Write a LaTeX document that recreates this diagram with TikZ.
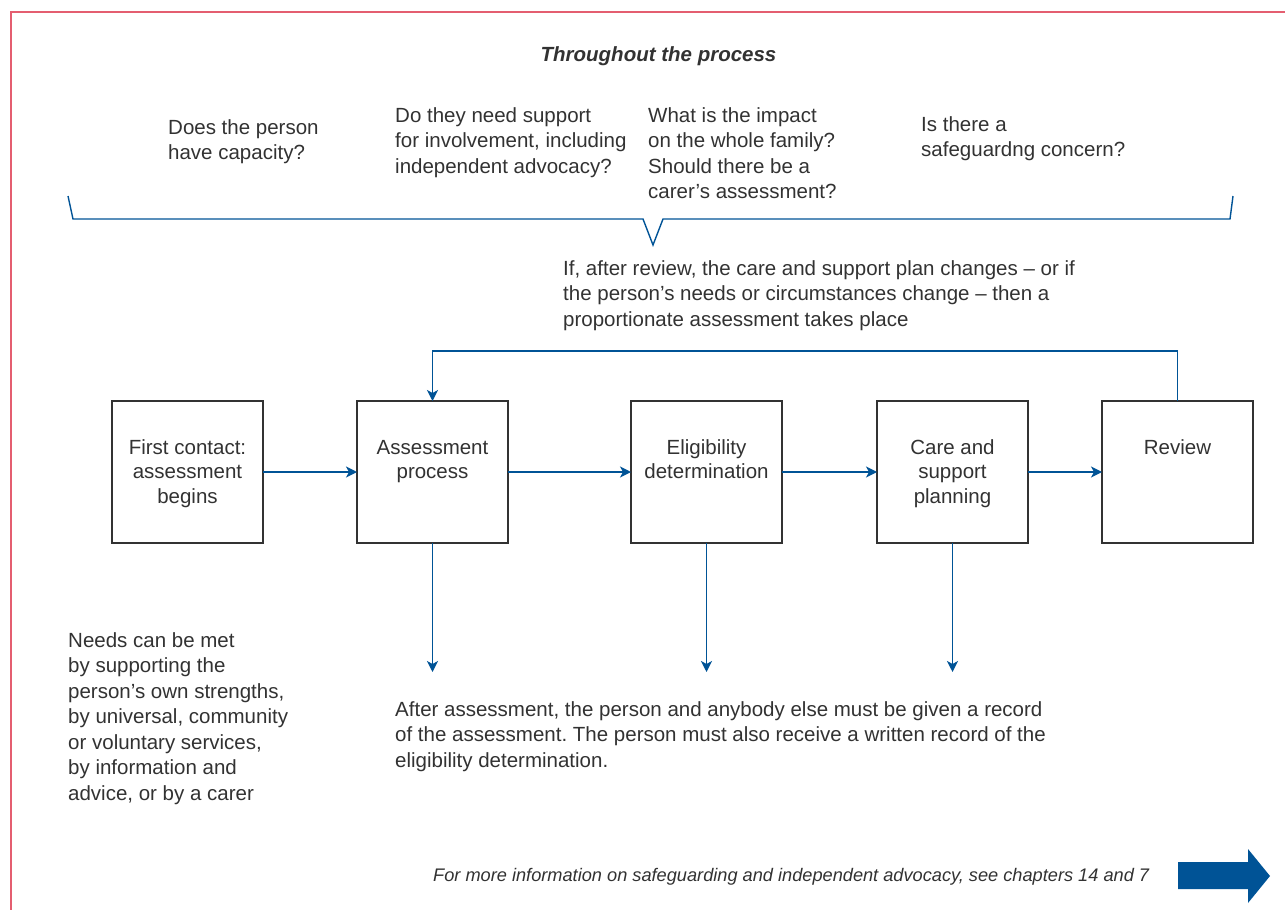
\documentclass[tikz,border=0pt]{standalone}
\usepackage{fontspec}
\setmainfont{Liberation Sans}
\usetikzlibrary{positioning,arrows.meta}
\definecolor{flowBlue}{RGB}{0,83,150}
\definecolor{frameRed}{RGB}{228,94,112}
\definecolor{inkGrey}{RGB}{50,50,50}
\newcommand{\bodyFont}{\fontsize{20.5}{25.5}\selectfont}
\newcommand{\boxFont}{\fontsize{20.5}{24.5}\selectfont}
\newcommand{\footFont}{\fontsize{18.2}{21}\selectfont\itshape}
\frenchspacing

\begin{document}
\begin{tikzpicture}[x=1pt, y=-1pt,
    stage/.style={draw=inkGrey, line width=1.4pt, minimum width=151pt,
                  minimum height=142pt, inner sep=0pt, outer sep=0pt},
    caption/.style={anchor=base, align=center, inner sep=0pt,
                    text=inkGrey, font=\boxFont},
    remark/.style={anchor=base west, align=left, inner sep=0pt,
                   text=inkGrey, font=\bodyFont},
    link/.style={draw=flowBlue, line width=1.5pt,
                 -{Stealth[length=11pt, width=11pt, inset=3pt]}}]
  \newcommand{\drop}{129}
  \newcommand{\capDrop}{53}
  \newcommand{\capLead}{24.5}

  \useasboundingbox (0,0) rectangle (1285,910);

  % Draws the red page frame
  \draw[frameRed, line width=1.5pt] (11,910) -- (11,12) -- (1285,12);

  % Draws the questions asked throughout (a text is placed by its last line)
  \node[anchor=base, inner sep=0pt, text=inkGrey,
        font=\bodyFont\bfseries\itshape] (throughout) at (658.5,61)
        {Throughout the process};
  \node[remark] (capacity) at (168,159.5) {Does the person\\have capacity?};
  \node[remark] (involve) at (395,173)
        {Do they need support\\for involvement, including\\independent advocacy?};
  \node[remark] (family) at (648,198.5)
        {What is the impact\\on the whole family?\\Should there be a\\carer’s assessment?};
  \node[remark] (concern) at (921,156.5) {Is there a\\safeguardng concern?};

  % Draws the brace under the questions
  \draw[flowBlue, line width=1.4pt] (68,196) -- (73,219) -- (643,219)
        -- (653,245) -- (663,219) -- (1230,219) -- (1233,196);

  \node[remark] (reassess) at (563,326)
        {If, after review, the care and support plan changes – or if\\the person’s needs or circumstances change – then a\\proportionate assessment takes place};

  % Draws the five stages
  \node[stage] (first) at (187.5,472) {};
  \node[stage, right=94pt of first] (assess) {};
  \node[stage, right=123pt of assess] (elig) {};
  \node[stage, right=95pt of elig] (plan) {};
  \node[stage, right=74pt of plan] (review) {};

  \foreach \n/\k/\t in {first/2/{First contact:\\assessment\\begins},
                        assess/1/{Assessment\\process},
                        elig/1/{Eligibility\\determination},
                        plan/2/{Care and\\support\\planning},
                        review/0/{Review}}
     \node[caption] (\n-text)
          at ([yshift=-\capDrop pt-\k*\capLead pt]\n.north) {\t};

  % Draws the flow between stages and the loop back after review
  \foreach \a/\b in {first/assess, assess/elig, elig/plan, plan/review}
     \draw[link] (\a) -- (\b);
  \draw[link] (review.north) -- ++(0,-50) -| (assess.north);

  % Draws the arrows down to the record
  \foreach \n in {assess, elig, plan}
     \draw[link] (\n.south) -- ++(0,\drop) coordinate (\n-end);

  \node[remark] (needs) at (68,800)
        {Needs can be met\\by supporting the\\person’s own strengths,\\by universal, community\\or voluntary services,\\by information and\\advice, or by a carer};
  \node[remark] (record) at (395,767)
        {After assessment, the person and anybody else must be given a record\\of the assessment. The person must also receive a written record of the\\eligibility determination.};

  % Draws the pointer to the next page
  \node[anchor=base west, inner sep=0pt, text=inkGrey, font=\footFont]
        (more) at (433,881)
        {For more information on safeguarding and independent advocacy, see chapters 14 and 7};
  \fill[flowBlue] (1178,862) -- (1248,862) -- (1248,849) -- (1270,876)
        -- (1248,903) -- (1248,889) -- (1178,889) -- cycle;
\end{tikzpicture}
\end{document}
